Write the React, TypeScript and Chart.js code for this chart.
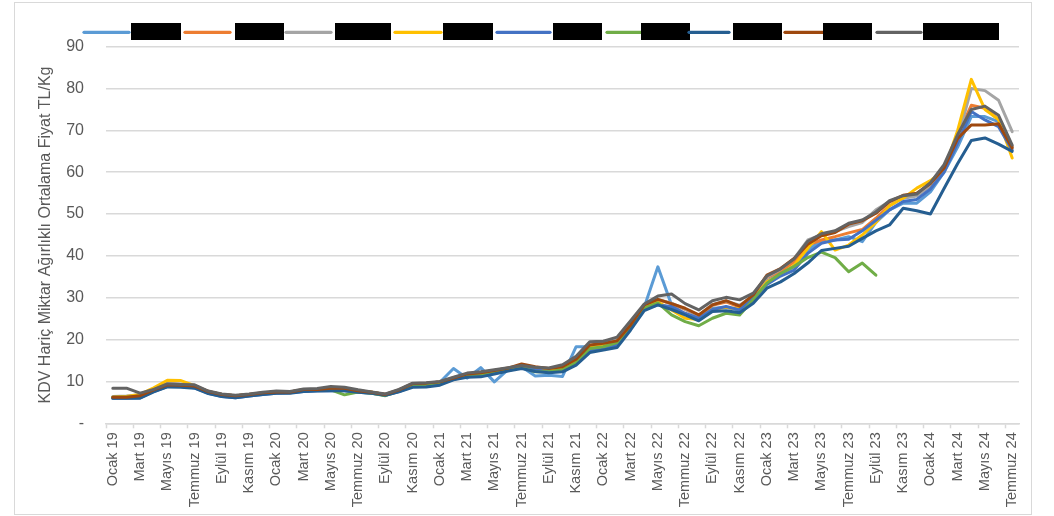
import React, { useEffect, useRef } from "react";
import { Chart, registerables } from "chart.js";

Chart.register(...registerables);

const categories = [
  "Ocak 19", "Şubat 19", "Mart 19", "Nisan 19", "Mayıs 19", "Haziran 19", "Temmuz 19", "Ağustos 19", "Eylül 19", "Ekim 19", "Kasım 19", "Aralık 19",
  "Ocak 20", "Şubat 20", "Mart 20", "Nisan 20", "Mayıs 20", "Haziran 20", "Temmuz 20", "Ağustos 20", "Eylül 20", "Ekim 20", "Kasım 20", "Aralık 20",
  "Ocak 21", "Şubat 21", "Mart 21", "Nisan 21", "Mayıs 21", "Haziran 21", "Temmuz 21", "Ağustos 21", "Eylül 21", "Ekim 21", "Kasım 21", "Aralık 21",
  "Ocak 22", "Şubat 22", "Mart 22", "Nisan 22", "Mayıs 22", "Haziran 22", "Temmuz 22", "Ağustos 22", "Eylül 22", "Ekim 22", "Kasım 22", "Aralık 22",
  "Ocak 23", "Şubat 23", "Mart 23", "Nisan 23", "Mayıs 23", "Haziran 23", "Temmuz 23", "Ağustos 23", "Eylül 23", "Ekim 23", "Kasım 23", "Aralık 23",
  "Ocak 24", "Şubat 24", "Mart 24", "Nisan 24", "Mayıs 24", "Haziran 24", "Temmuz 24",
];

const yTicks = [0, 10, 20, 30, 40, 50, 60, 70, 80, 90];
const yTitle = "KDV Hariç Miktar Ağırlıklı Ortalama Fiyat TL/Kg";

const seriesNames = ["Seri 1", "Seri 2", "Seri 3", "Seri 4", "Seri 5", "Seri 6", "Seri 7", "Seri 8", "Seri 9"];
const seriesColors = ["#5B9BD5", "#ED7D31", "#A5A5A5", "#FFC000", "#4472C4", "#70AD47", "#255E91", "#9E480E", "#636363"];

const s1 = [6.1, 6.2, 6.5, 7.9, 9.1, 9.0, 8.8, 7.4, 6.7, 6.4, 6.8, 7.1, 7.4, 7.4, 7.9, 8.0, 8.2, 8.1, 7.6, 7.3, 6.8, 7.8, 9.2, 9.4,
  9.8, 13.1, 10.8, 13.3, 9.9, 12.8, 13.5, 11.3, 11.5, 11.2, 18.3, 18.3, 18.8, 19.5, 23.2, 27.8, 37.4, 28.3, 26.0, 25.2, 27.5, 27.7, 27.0, 29.9,
  34.0, 35.8, 37.4, 41.4, 43.6, 43.8, 44.6, 43.4, 48.0, 51.0, 52.6, 52.6, 55.3, 60.0, 66.0, 73.3, 73.3, 72.1, 66.1];
const s2 = [6.2, 6.3, 6.7, 8.1, 9.5, 9.3, 9.0, 7.6, 6.9, 6.6, 6.9, 7.2, 7.5, 7.5, 8.0, 8.1, 8.4, 8.3, 7.7, 7.4, 6.9, 7.9, 9.4, 9.5,
  9.9, 10.8, 11.7, 12.1, 12.6, 13.1, 13.8, 13.3, 13.0, 13.4, 15.0, 18.5, 19.0, 19.8, 23.4, 28.0, 29.5, 28.6, 27.2, 25.7, 28.2, 29.0, 27.8, 30.2,
  34.8, 36.3, 38.6, 42.6, 43.8, 44.6, 45.5, 46.3, 49.0, 52.0, 54.0, 54.5, 56.8, 61.0, 69.0, 76.0, 75.3, 72.6, 66.1];
const s3 = [6.4, 6.5, 6.8, 8.2, 9.5, 9.4, 9.0, 7.6, 6.9, 6.6, 6.9, 7.2, 7.6, 7.5, 8.0, 8.1, 8.4, 8.3, 7.8, 7.4, 6.9, 7.9, 9.4, 9.5,
  9.9, 10.9, 11.8, 12.1, 12.6, 13.1, 13.8, 13.3, 13.0, 13.4, 15.2, 18.6, 19.2, 20.0, 23.6, 28.1, 29.6, 28.7, 27.3, 25.8, 28.4, 29.2, 28.2, 30.4,
  35.0, 36.8, 39.4, 43.8, 45.0, 45.8, 47.0, 48.0, 51.0, 53.0, 53.8, 54.3, 57.0, 61.2, 68.0, 80.0, 79.5, 77.2, 69.7];
const s4 = [6.2, 6.4, 6.9, 8.5, 10.3, 10.2, 9.0, 7.5, 6.8, 6.6, 6.8, 7.2, 7.5, 7.4, 8.0, 8.0, 8.3, 8.2, 7.7, 7.4, 6.8, 7.8, 9.3, 9.4,
  9.8, 10.7, 11.6, 11.9, 12.4, 13.0, 13.6, 12.9, 12.6, 13.1, 14.7, 18.2, 18.8, 19.6, 23.0, 27.6, 29.0, 27.1, 25.1, 24.8, 27.2, 27.7, 27.3, 29.8,
  33.8, 35.5, 37.8, 41.8, 45.8, 41.4, 42.6, 45.0, 48.0, 52.0, 53.8, 56.2, 58.0, 60.5, 70.0, 82.2, 75.0, 72.6, 63.4];
const s5 = [6.0, 6.0, 6.1, 7.6, 8.8, 8.8, 8.5, 7.2, 6.4, 6.1, 6.5, 6.9, 7.2, 7.3, 7.6, 7.8, 7.8, 7.8, 7.4, 7.2, 6.7, 7.6, 8.8, 9.0,
  9.4, 10.5, 11.2, 11.4, 12.0, 12.7, 13.3, 12.8, 12.3, 12.5, 14.3, 17.5, 17.9, 18.7, 22.6, 27.3, 28.3, 27.9, 26.3, 25.1, 27.2, 27.9, 27.1, 29.9,
  33.2, 35.2, 36.6, 40.6, 43.0, 43.8, 44.0, 46.0, 48.5, 51.0, 53.0, 53.5, 56.0, 60.0, 67.0, 74.5, 72.5, 70.9, 65.3];
const s6 = [6.2, 6.2, 6.5, 7.9, 9.0, 9.0, 8.7, 7.3, 6.6, 6.5, 6.8, 7.1, 7.4, 7.4, 7.9, 8.0, 8.0, 6.8, 7.5, 7.2, 6.6, 7.7, 9.1, 9.3,
  9.7, 10.6, 11.5, 11.8, 12.2, 12.8, 13.4, 12.3, 12.3, 12.8, 14.5, 17.9, 18.3, 19.3, 22.9, 27.5, 28.8, 25.9, 24.3, 23.3, 25.1, 26.3, 25.9, 29.6,
  33.5, 35.8, 37.5, 39.6, 40.9, 39.6, 36.2, 38.3, 35.4, null, null, null, null, null, null, null, null, null, null];
const s7 = [6.0, 6.0, 6.0, 7.5, 8.7, 8.6, 8.4, 7.1, 6.4, 6.1, 6.5, 6.9, 7.2, 7.2, 7.6, 7.7, 7.8, 7.8, 7.4, 7.2, 6.7, 7.5, 8.6, 8.7,
  9.1, 10.4, 11.0, 11.1, 11.8, 12.5, 13.1, 12.4, 12.1, 12.3, 13.9, 16.9, 17.5, 18.1, 22.3, 26.9, 28.3, 27.2, 25.9, 24.5, 26.7, 26.9, 26.4, 28.7,
  32.3, 33.8, 35.8, 38.3, 41.3, 41.8, 42.3, 44.2, 46.0, 47.4, 51.4, 50.8, 50.0, 56.1, 62.1, 67.6, 68.2, 66.7, 65.0];
const s8 = [6.2, 6.2, 6.6, 8.0, 9.2, 9.1, 8.9, 7.6, 6.9, 6.6, 6.9, 7.3, 7.5, 7.5, 8.1, 8.1, 8.4, 8.4, 7.8, 7.4, 6.9, 8.0, 9.5, 9.6,
  9.9, 10.8, 11.8, 12.1, 12.6, 13.2, 14.2, 13.5, 13.1, 13.5, 15.3, 18.7, 19.1, 19.7, 23.5, 28.3, 29.6, 28.6, 27.5, 25.9, 28.3, 29.3, 28.0, 30.7,
  35.4, 37.0, 39.4, 42.8, 44.8, 45.6, 47.6, 48.4, 50.2, 53.0, 54.5, 55.0, 57.3, 61.0, 68.1, 71.3, 71.3, 71.6, 65.8];
const s9 = [8.4, 8.4, 7.2, 8.1, 9.4, 9.3, 9.2, 7.7, 7.0, 6.7, 7.0, 7.4, 7.7, 7.6, 8.2, 8.3, 8.8, 8.6, 8.0, 7.5, 7.0, 8.1, 9.6, 9.7,
  10.0, 11.0, 12.0, 12.3, 12.8, 13.3, 13.8, 13.4, 13.2, 14.0, 16.0, 19.5, 19.6, 20.6, 24.5, 28.5, 30.4, 30.9, 28.6, 27.1, 29.3, 30.1, 29.5, 31.1,
  35.2, 36.9, 39.3, 43.5, 45.3, 46.0, 47.8, 48.6, 50.5, 53.2, 54.4, 54.8, 57.5, 61.8, 69.0, 75.0, 75.8, 73.6, 66.5];

const seriesValues = [s1, s2, s3, s4, s5, s6, s7, s8, s9];

const TEXT = "#595959";
const GRID = "#d9d9d9";
const FONT = "'Liberation Sans', Arial, sans-serif";

// legend item geometry (line sample start/end, redaction box start/end), in px
const legendItems = [
  [84, 129, 131, 181],
  [185, 230, 235, 284],
  [286, 331, 335, 391],
  [395, 441, 443, 493],
  [497, 550, 553, 602],
  [607, 641, 641, 690],
  [689, 729, 733, 782],
  [785, 823, 823, 872],
  [877, 921, 923, 999],
];

const redactedLegend = {
  id: "redactedLegend",
  afterDraw(chart: any) {
    const ctx = chart.ctx;
    ctx.save();
    chart.data.datasets.forEach((ds: any, i: number) => {
      const [l0, l1, b0, b1] = legendItems[i];
      ctx.strokeStyle = ds.borderColor;
      ctx.lineWidth = 3.2;
      ctx.lineCap = "round";
      ctx.beginPath();
      ctx.moveTo(l0, 32.3);
      ctx.lineTo(l1, 32.3);
      ctx.stroke();
      ctx.fillStyle = "#000000";
      ctx.fillRect(b0, 23, b1 - b0, 17);
      ctx.font = `14px ${FONT}`;
      ctx.textBaseline = "middle";
      ctx.fillText(ds.label, b0 + 3, 32);
    });
    ctx.restore();
  },
};

export default function App() {
  const ref = useRef<HTMLCanvasElement | null>(null);

  useEffect(() => {
    if (!ref.current) return;
    Chart.defaults.font.family = FONT;
    const chart = new Chart(ref.current, {
      type: "line",
      data: {
        labels: categories,
        datasets: seriesValues.map((vals, i) => ({
          label: seriesNames[i],
          data: vals,
          borderColor: seriesColors[i],
          backgroundColor: seriesColors[i],
          borderWidth: 3,
          pointRadius: 0,
          pointHoverRadius: 0,
          tension: 0,
          fill: false,
          spanGaps: false,
          borderJoinStyle: "round" as const,
          borderCapStyle: "round" as const,
          order: seriesValues.length - 1 - i,
        })),
      },
      options: {
        responsive: false,
        animation: false,
        layout: { padding: { left: 0, right: 35, top: 46.7, bottom: 0 } },
        plugins: {
          legend: { display: false },
          tooltip: { enabled: false },
          title: { display: false },
        },
        scales: {
          x: {
            offset: true,
            border: { display: true, color: GRID, width: 1.5 },
            grid: {
              offset: true,
              drawOnChartArea: false,
              drawTicks: true,
              tickLength: 5,
              tickWidth: 1.5,
              tickColor: (c: any) => (c.index % 2 === 0 ? GRID : "rgba(0,0,0,0)"),
              color: GRID,
            },
            ticks: {
              autoSkip: false,
              maxRotation: 90,
              minRotation: 90,
              padding: 4,
              color: TEXT,
              font: { size: 14.5, family: FONT },
              callback: function (this: any, val: any, idx: number) {
                return idx % 2 === 0 ? categories[idx] : "";
              },
            },
            afterFit: (scale: any) => {
              scale.height = 516 - 423.3;
            },
          },
          y: {
            min: yTicks[0],
            max: yTicks[yTicks.length - 1],
            border: { display: false },
            grid: { color: GRID, lineWidth: 1.5, drawTicks: false },
            ticks: {
              stepSize: 10,
              padding: 22,
              color: TEXT,
              font: { size: 16, family: FONT },
              callback: (v: any) => (Number(v) === 0 ? "-" : String(v)),
            },
            title: {
              display: true,
              text: yTitle,
              color: TEXT,
              font: { size: 16, family: FONT, weight: "normal" },
              padding: { top: 36, bottom: 0 },
            },
            afterFit: (scale: any) => {
              scale.width = 106;
            },
          },
        },
      },
      plugins: [redactedLegend],
    });
    return () => chart.destroy();
  }, []);

  return (
    <div style={{ position: "absolute", left: 0, top: 0, width: 1054, height: 516, background: "#ffffff" }}>
      <div
        style={{
          position: "absolute",
          left: 14,
          top: 2,
          width: 1018,
          height: 513,
          border: `1px solid ${GRID}`,
          boxSizing: "border-box",
        }}
      />
      <canvas ref={ref} width={1054} height={516} style={{ position: "absolute", left: 0, top: 0 }} />
    </div>
  );
}
